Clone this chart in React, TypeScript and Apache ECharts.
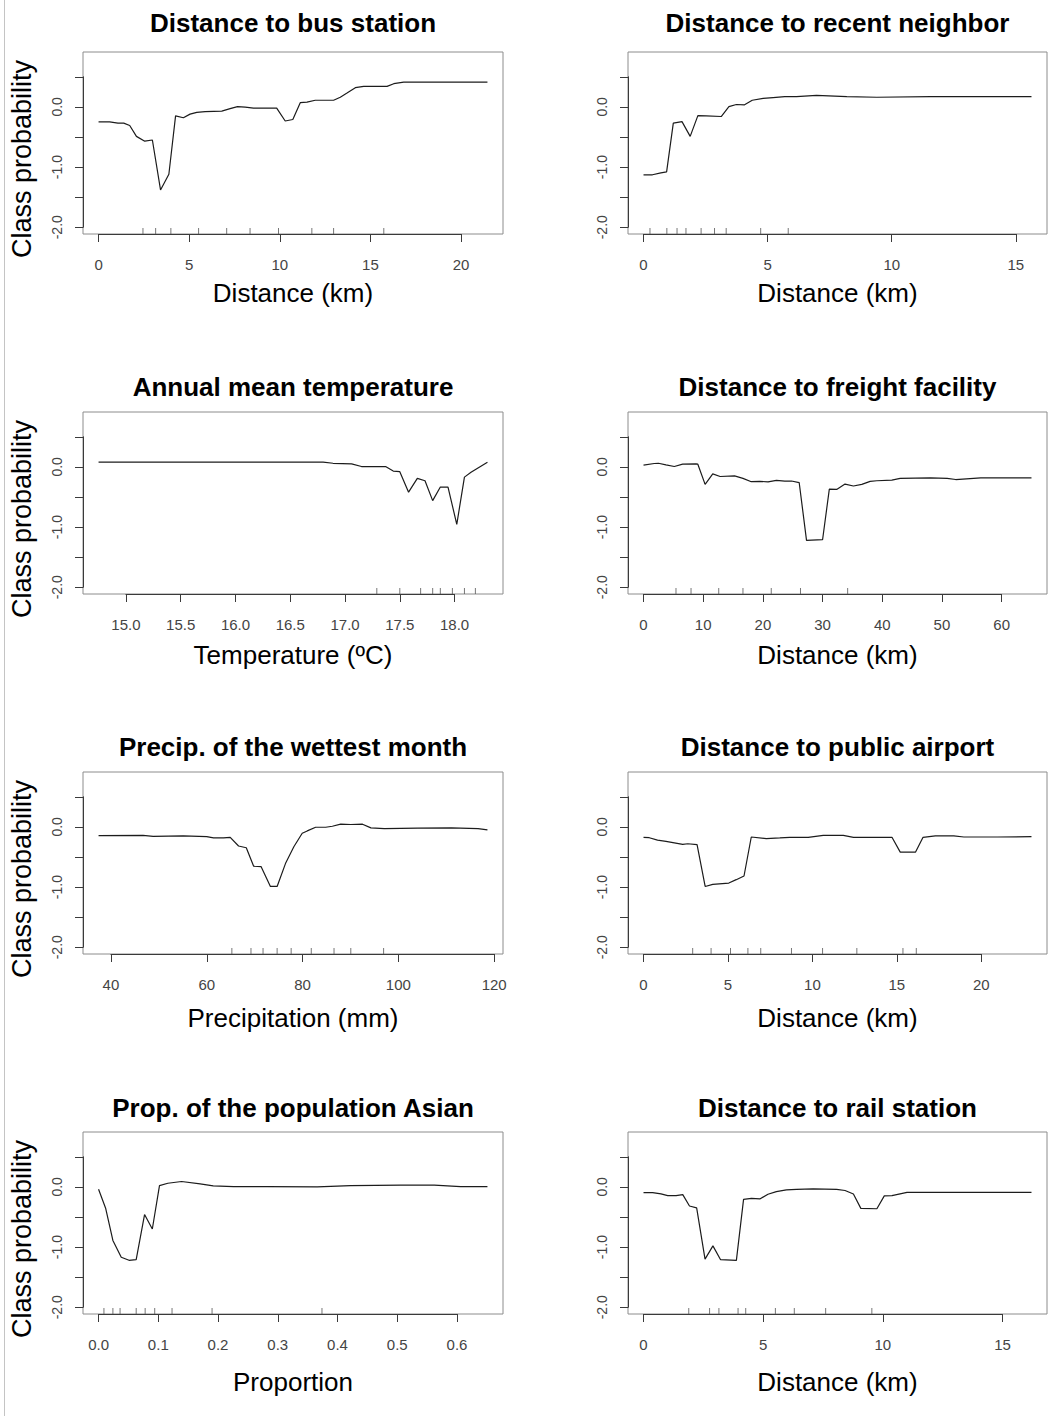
import React, { useEffect, useRef } from "react";
import * as echarts from "echarts";

// ---------- data ----------
const panelTitles = [
  "Distance to bus station",
  "Distance to recent neighbor",
  "Annual mean temperature",
  "Distance to freight facility",
  "Precip. of the wettest month",
  "Distance to public airport",
  "Prop. of the population Asian",
  "Distance to rail station",
];
const xAxisTitles = [
  "Distance (km)",
  "Distance (km)",
  "Temperature (ºC)",
  "Distance (km)",
  "Precipitation (mm)",
  "Distance (km)",
  "Proportion",
  "Distance (km)",
];
const yAxisTitle = "Class probability";

const busStation = [[0,-0.25],[0.61,-0.25],[1.07,-0.27],[1.39,-0.27],[1.72,-0.31],[2.09,-0.49],[2.55,-0.57],[2.97,-0.55],[3.42,-1.38],[3.88,-1.12],[4.25,-0.15],[4.68,-0.18],[5.05,-0.12],[5.42,-0.09],[5.88,-0.08],[6.8,-0.07],[7.26,-0.03],[7.67,0.005],[8.09,-0.005],[8.55,-0.02],[9.1,-0.02],[9.83,-0.02],[10.3,-0.235],[10.72,-0.21],[11.13,0.07],[11.5,0.08],[11.96,0.11],[12.97,0.11],[13.34,0.16],[13.71,0.23],[14.17,0.32],[14.63,0.34],[15.0,0.34],[15.92,0.34],[16.29,0.385],[16.84,0.41],[17.4,0.41],[21.46,0.41]];
const recentNeighbor = [[0,-1.128],[0.36,-1.128],[0.7,-1.095],[0.93,-1.08],[1.2,-0.27],[1.55,-0.245],[1.88,-0.49],[2.19,-0.145],[2.52,-0.15],[3.13,-0.16],[3.44,0.005],[3.74,0.04],[4.07,0.035],[4.38,0.11],[4.82,0.14],[5.22,0.155],[5.69,0.17],[6.16,0.17],[6.97,0.19],[8.19,0.17],[9.4,0.16],[11.56,0.17],[15.63,0.17]];
const meanTemperature = [[14.75,0.078],[16.8,0.078],[16.89,0.06],[17.06,0.05],[17.15,0.006],[17.37,0.006],[17.44,-0.07],[17.5,-0.08],[17.58,-0.42],[17.66,-0.19],[17.73,-0.23],[17.8,-0.56],[17.87,-0.335],[17.94,-0.335],[18.02,-0.955],[18.09,-0.17],[18.15,-0.09],[18.3,0.078]];
const freightFacility = [[0,0.028],[1.8,0.056],[2.5,0.06],[3.76,0.034],[5.16,0.006],[6.56,0.045],[8.8,0.05],[9.1,0.045],[10.32,-0.29],[11.6,-0.117],[12.84,-0.16],[15.25,-0.15],[16.66,-0.19],[18.06,-0.246],[19.46,-0.24],[20.86,-0.25],[22.27,-0.223],[23.67,-0.235],[24.79,-0.235],[26.08,-0.26],[27.31,-1.22],[30.0,-1.21],[31.13,-0.37],[32.36,-0.374],[33.76,-0.285],[35.17,-0.318],[36.57,-0.29],[37.97,-0.24],[39.09,-0.23],[41.6,-0.22],[43.0,-0.19],[48.07,-0.184],[50.87,-0.19],[52.3,-0.21],[56.5,-0.184],[65.0,-0.184]];
const wettestMonth = [[37.41,-0.145],[46.71,-0.14],[48.81,-0.156],[55.1,-0.15],[60.0,-0.162],[61.4,-0.184],[63.5,-0.184],[64.9,-0.173],[66.64,-0.318],[68.25,-0.346],[69.79,-0.654],[71.33,-0.66],[73.29,-0.99],[74.69,-0.99],[76.43,-0.61],[78.18,-0.33],[79.93,-0.106],[80.98,-0.067],[82.73,-0.006],[84.83,-0.006],[86.22,0.011],[87.97,0.045],[90.07,0.04],[92.52,0.045],[94.27,-0.017],[97.06,-0.028],[104.06,-0.022],[111.05,-0.017],[116.64,-0.028],[118.6,-0.05]];
const publicAirport = [[0,-0.173],[0.34,-0.18],[0.83,-0.22],[1.33,-0.24],[2.32,-0.29],[2.62,-0.28],[3.17,-0.296],[3.65,-0.99],[4.1,-0.955],[5.05,-0.933],[5.49,-0.877],[5.95,-0.816],[6.38,-0.168],[7.27,-0.196],[8.07,-0.184],[8.66,-0.173],[9.75,-0.173],[10.64,-0.14],[11.83,-0.14],[12.43,-0.173],[14.71,-0.173],[15.2,-0.42],[16.1,-0.42],[16.55,-0.173],[17.28,-0.15],[18.37,-0.15],[18.97,-0.168],[20.95,-0.168],[22.97,-0.162]];
const populationAsian = [[0,-0.04],[0.012,-0.36],[0.024,-0.89],[0.038,-1.17],[0.051,-1.22],[0.063,-1.21],[0.077,-0.46],[0.09,-0.7],[0.102,0.022],[0.116,0.06],[0.139,0.09],[0.17,0.05],[0.192,0.017],[0.226,0.006],[0.282,0.006],[0.366,0],[0.422,0.022],[0.506,0.028],[0.562,0.028],[0.606,0.006],[0.651,0.006]];
const railStation = [[0,-0.095],[0.38,-0.095],[0.73,-0.117],[1.01,-0.145],[1.36,-0.145],[1.64,-0.128],[1.92,-0.318],[2.22,-0.35],[2.57,-1.2],[2.9,-0.98],[3.22,-1.21],[3.88,-1.22],[4.18,-0.207],[4.51,-0.19],[4.86,-0.2],[5.2,-0.123],[5.55,-0.078],[5.97,-0.05],[6.39,-0.04],[7.09,-0.034],[8.07,-0.04],[8.42,-0.06],[8.77,-0.117],[9.08,-0.357],[9.75,-0.363],[10.06,-0.15],[10.38,-0.145],[11.01,-0.09],[11.99,-0.09],[16.21,-0.09]];

// rug (deciles of the observations)
const busRug = [2.45, 3.15, 3.99, 5.52, 7.07, 8.36, 9.93, 11.77, 12.97, 15.74];
const neighborRug = [0.26, 0.94, 1.35, 1.71, 2.32, 2.86, 3.33, 4.72, 5.83];
const temperatureRug = [17.29, 17.5, 17.69, 17.8, 17.87, 17.98, 18.09, 18.19];
const freightRug = [5.44, 7.96, 12.6, 16.66, 21.4, 26.3, 34.2];
const precipRug = [65.24, 69.23, 71.75, 74.69, 77.62, 81.82, 86.57, 90.07, 96.92];
const airportRug = [2.91, 4.0, 5.15, 6.18, 6.94, 8.76, 10.6, 12.63, 15.36, 16.15];
const asianRug = [0.009, 0.024, 0.036, 0.063, 0.078, 0.094, 0.123, 0.19, 0.374];
const railRug = [1.89, 2.76, 3.15, 3.95, 4.27, 5.51, 6.3, 7.61, 9.54];

// x tick labels [first, last, step, decimals]
const busTicks = [0, 20, 5, 0];
const neighborTicks = [0, 15, 5, 0];
const temperatureTicks = [15, 18, 0.5, 1];
const freightTicks = [0, 60, 10, 0];
const precipTicks = [40, 120, 20, 0];
const airportTicks = [0, 20, 5, 0];
const asianTicks = [0, 0.6, 0.1, 1];
const railTicks = [0, 15, 5, 0];

// y axis
const yTickFirst = -2;
const yTickLast = 0.5;
const yTickStep = 0.5;
const Y_MIN = -2.112;
const Y_MAX = 0.912;

const seriesData = [busStation, recentNeighbor, meanTemperature, freightFacility, wettestMonth, publicAirport, populationAsian, railStation];
const rugData = [busRug, neighborRug, temperatureRug, freightRug, precipRug, airportRug, asianRug, railRug];
const tickData = [busTicks, neighborTicks, temperatureTicks, freightTicks, precipTicks, airportTicks, asianTicks, railTicks];

// ---------- layout ----------
const W = 1061;
const H = 1416;
const COL_LEFT = [83, 628];
const COL_W = [420, 419];
const ROW_TOP = [52, 412, 772, 1132];
const BOX_H = 182;
const TITLE_Y = [23, 386.5, 746.5, 1108];
const XLABEL_Y = [293, 655, 1018, 1382];
const FONT = '"Liberation Sans", Arial, Helvetica, sans-serif';
const BOX_COLOR = "#8c8c8c";
const AXIS_COLOR = "#3a3a3a";
const LABEL_COLOR = "#444444";

export default function App() {
  const ref = useRef<HTMLDivElement>(null);

  useEffect(() => {
    if (!ref.current) return;
    const chart = echarts.init(ref.current, null, { renderer: "svg" });

    const grids: any[] = [];
    const xAxes: any[] = [];
    const yAxes: any[] = [];
    const series: any[] = [];
    const graphics: any[] = [];

    graphics.push({
      type: "line",
      shape: { x1: 4.5, y1: 0, x2: 4.5, y2: H },
      style: { stroke: "#c4c4c4", lineWidth: 1 },
      silent: true,
    });

    seriesData.forEach((data, i) => {
      const col = i % 2;
      const row = Math.floor(i / 2);
      const left = COL_LEFT[col];
      const width = COL_W[col];
      const top = ROW_TOP[row];
      const height = BOX_H;

      const xs = data.map((d) => d[0]);
      const d0 = Math.min(...xs);
      const d1 = Math.max(...xs);
      const ext = 0.04 * (d1 - d0);
      const xmin = d0 - ext;
      const xmax = d1 + ext;

      // main box grid with the curve
      const gMain = grids.length;
      grids.push({ left, top, width, height, show: true, borderColor: BOX_COLOR, borderWidth: 1, backgroundColor: "transparent" });
      xAxes.push({ gridIndex: gMain, type: "value", min: xmin, max: xmax, show: false });
      yAxes.push({ gridIndex: gMain, type: "value", min: Y_MIN, max: Y_MAX, show: false });
      const xi = xAxes.length - 1;
      const yi = yAxes.length - 1;
      series.push({
        type: "line",
        xAxisIndex: xi,
        yAxisIndex: yi,
        data,
        symbol: "none",
        showSymbol: false,
        lineStyle: { color: "#1c1c1c", width: 1.2 },
        silent: true,
      });
      series.push({
        type: "scatter",
        xAxisIndex: xi,
        yAxisIndex: yi,
        data: rugData[i].map((v) => [v, Y_MIN]),
        symbol: "rect",
        symbolSize: [1, 6],
        symbolOffset: [0, -3],
        itemStyle: { color: "#555" },
        clip: false,
        silent: true,
      });

      // x tick axis (R style: axis line from first to last tick)
      const [t0, tN, step, dec] = tickData[i];
      const xl = left + ((t0 - xmin) / (xmax - xmin)) * width;
      const xw = ((tN - t0) / (xmax - xmin)) * width;
      const gX = grids.length;
      grids.push({ left: xl, top, width: xw, height });
      xAxes.push({
        gridIndex: gX,
        type: "value",
        min: t0,
        max: tN,
        interval: step,
        position: "bottom",
        axisLine: { show: true, onZero: false, lineStyle: { color: AXIS_COLOR, width: 1 } },
        axisTick: { show: true, length: 8, lineStyle: { color: AXIS_COLOR, width: 1 } },
        axisLabel: {
          show: true,
          margin: 23,
          fontSize: 15,
          fontFamily: FONT,
          color: LABEL_COLOR,
          formatter: (v: number) => v.toFixed(dec),
        },
        splitLine: { show: false },
      });
      yAxes.push({ gridIndex: gX, type: "value", min: 0, max: 1, show: false });

      // y tick axis
      const yt = top + ((Y_MAX - yTickLast) / (Y_MAX - Y_MIN)) * height;
      const yh = ((yTickLast - yTickFirst) / (Y_MAX - Y_MIN)) * height;
      const gY = grids.length;
      grids.push({ left, top: yt, width, height: yh });
      xAxes.push({ gridIndex: gY, type: "value", min: 0, max: 1, show: false });
      yAxes.push({
        gridIndex: gY,
        type: "value",
        min: yTickFirst,
        max: yTickLast,
        interval: yTickStep,
        position: "left",
        axisLine: { show: true, onZero: false, lineStyle: { color: AXIS_COLOR, width: 1 } },
        axisTick: { show: true, length: 8, lineStyle: { color: AXIS_COLOR, width: 1 } },
        axisLabel: {
          show: true,
          rotate: 90,
          margin: 19,
          fontSize: 14,
          fontFamily: FONT,
          color: LABEL_COLOR,
          formatter: (v: number) => (Math.abs(v - Math.round(v)) < 1e-9 ? v.toFixed(1) : ""),
        },
        splitLine: { show: false },
      });

      // texts
      const cx = left + width / 2;
      graphics.push({
        type: "text",
        x: cx,
        y: TITLE_Y[row],
        silent: true,
        style: {
          text: panelTitles[i],
          fontSize: 26,
          fontWeight: "bold",
          fontFamily: FONT,
          fill: "#000",
          textAlign: "center",
          textVerticalAlign: "middle",
        },
      });
      graphics.push({
        type: "text",
        x: cx,
        y: XLABEL_Y[row],
        silent: true,
        style: {
          text: xAxisTitles[i],
          fontSize: 26,
          fontFamily: FONT,
          fill: "#000",
          textAlign: "center",
          textVerticalAlign: "middle",
        },
      });
      if (col === 0) {
        graphics.push({
          type: "text",
          x: 22,
          y: top + height / 2 + 16,
          rotation: Math.PI / 2,
          silent: true,
          style: {
            text: yAxisTitle,
            fontSize: 27,
            fontFamily: FONT,
            fill: "#000",
            textAlign: "center",
            textVerticalAlign: "middle",
          },
        });
      }
    });

    chart.setOption({
      animation: false,
      backgroundColor: "#ffffff",
      grid: grids,
      xAxis: xAxes,
      yAxis: yAxes,
      series,
      graphic: graphics,
    });

    return () => {
      chart.dispose();
    };
  }, []);

  return (
    <div
      ref={ref}
      style={{ position: "absolute", left: 0, top: 0, width: W, height: H }}
    />
  );
}
